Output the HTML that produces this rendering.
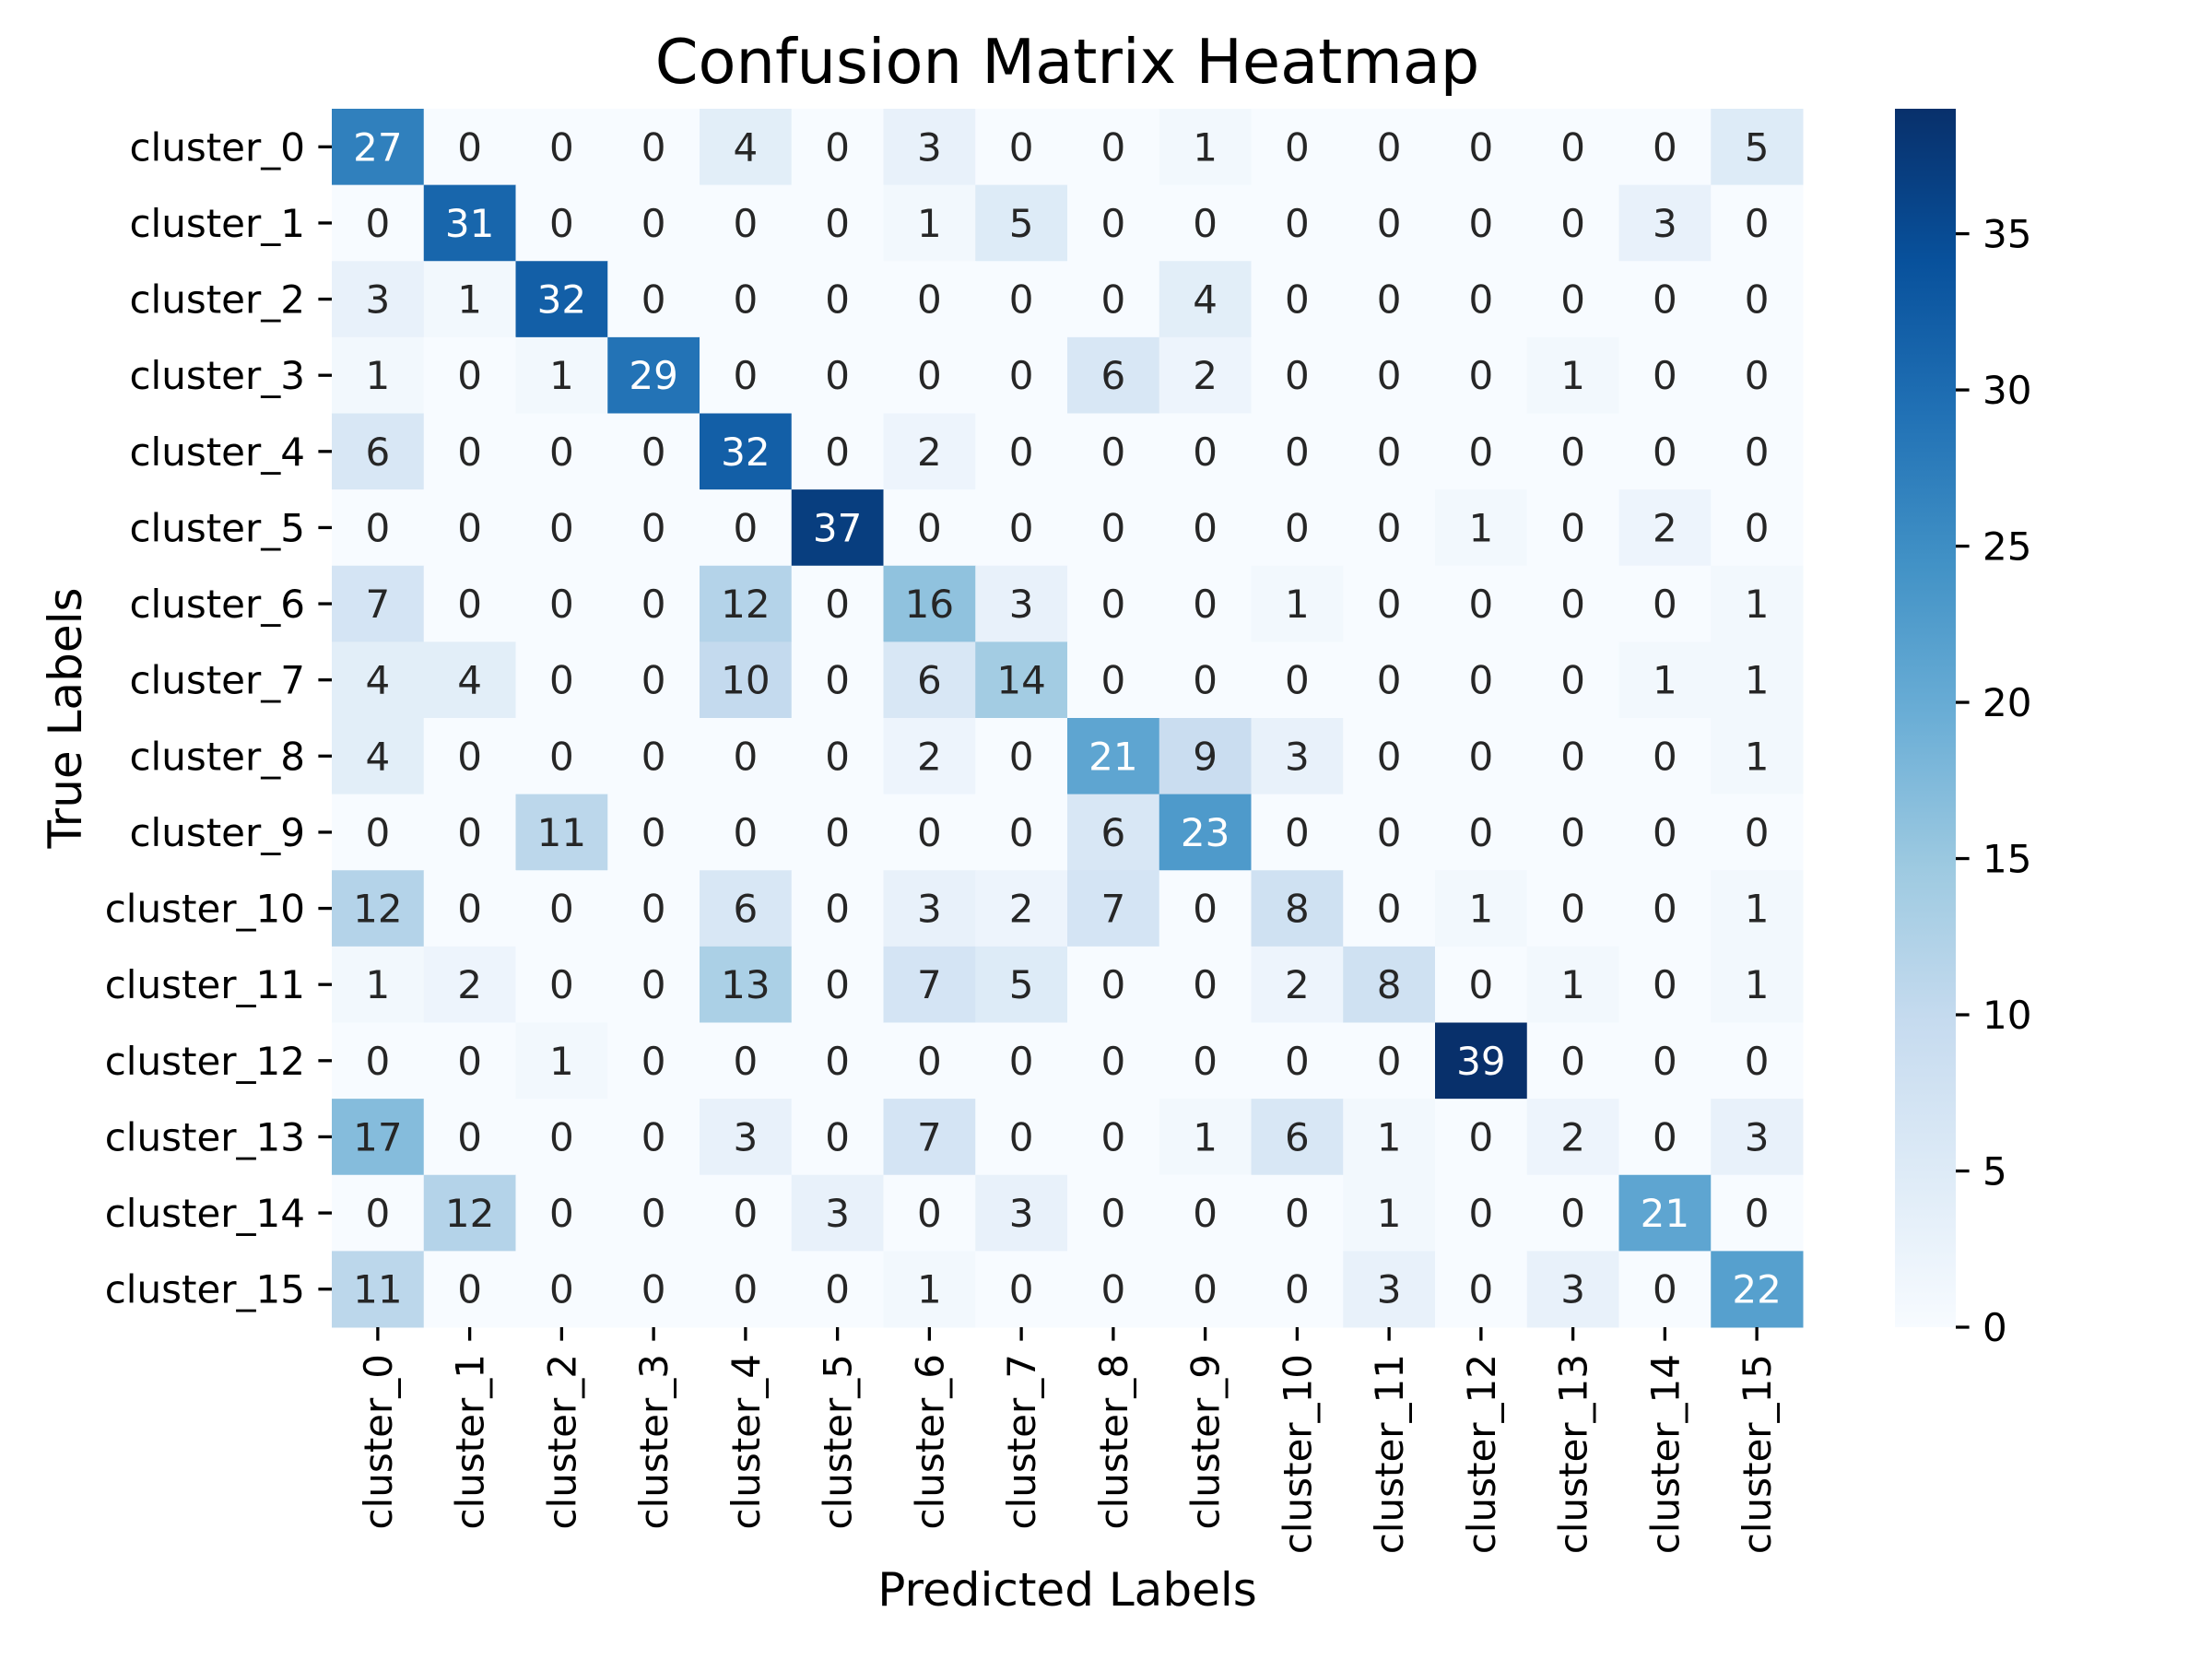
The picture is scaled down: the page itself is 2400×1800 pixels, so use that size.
<!DOCTYPE html>
<html><head><meta charset="utf-8"><style>
html,body{margin:0;padding:0;background:#fff;}
svg{display:block;font-family:"DejaVu Sans","Liberation Sans",sans-serif;}
</style></head><body>
<svg id="chart" width="2400" height="1800" viewBox="0 0 2400 1800">
<text x="1158" y="90" text-anchor="middle" font-size="67" fill="#000">Confusion Matrix Heatmap</text>
<text x="1158" y="1742" text-anchor="middle" font-size="50" fill="#000">Predicted Labels</text>
<text x="0" y="0" transform="translate(88,779) rotate(-90)" text-anchor="middle" font-size="50" fill="#000">True Labels</text>
<g id="cells"></g>
<g id="xt"></g>
<g id="yt"></g>
<defs><linearGradient id="cbg" x1="0" y1="1" x2="0" y2="0"></linearGradient></defs>
<rect id="cbar"></rect>
<g id="ct"></g>
</svg>
<script>
const labels=["cluster_0","cluster_1","cluster_2","cluster_3","cluster_4","cluster_5","cluster_6","cluster_7","cluster_8","cluster_9","cluster_10","cluster_11","cluster_12","cluster_13","cluster_14","cluster_15"];
const matrix=[
[27,0,0,0,4,0,3,0,0,1,0,0,0,0,0,5],
[0,31,0,0,0,0,1,5,0,0,0,0,0,0,3,0],
[3,1,32,0,0,0,0,0,0,4,0,0,0,0,0,0],
[1,0,1,29,0,0,0,0,6,2,0,0,0,1,0,0],
[6,0,0,0,32,0,2,0,0,0,0,0,0,0,0,0],
[0,0,0,0,0,37,0,0,0,0,0,0,1,0,2,0],
[7,0,0,0,12,0,16,3,0,0,1,0,0,0,0,1],
[4,4,0,0,10,0,6,14,0,0,0,0,0,0,1,1],
[4,0,0,0,0,0,2,0,21,9,3,0,0,0,0,1],
[0,0,11,0,0,0,0,0,6,23,0,0,0,0,0,0],
[12,0,0,0,6,0,3,2,7,0,8,0,1,0,0,1],
[1,2,0,0,13,0,7,5,0,0,2,8,0,1,0,1],
[0,0,1,0,0,0,0,0,0,0,0,0,39,0,0,0],
[17,0,0,0,3,0,7,0,0,1,6,1,0,2,0,3],
[0,12,0,0,0,3,0,3,0,0,0,1,0,0,21,0],
[11,0,0,0,0,0,1,0,0,0,0,3,0,3,0,22]];
const cbTicks=[0,5,10,15,20,25,30,35];
const vmin=0, vmax=39;
const L=360,T=118,R=1956,B=1440;
const n=labels.length, cw=(R-L)/n, ch=(B-T)/n;
const blues=["#f7fbff","#deebf7","#c6dbef","#9ecae1","#6baed6","#4292c6","#2171b5","#08519c","#08306b"];
function hex(h){return [1,3,5].map(i=>parseInt(h.substr(i,2),16));}
function cmap(v){let t=(v-vmin)/(vmax-vmin);t=Math.max(0,Math.min(1,t));const p=t*8,i=Math.min(7,Math.floor(p)),f=p-i;const a=hex(blues[i]),b=hex(blues[i+1]);return a.map((x,k)=>Math.round(x+(b[k]-x)*f));}
function lum(c){const r=c.map(x=>{x/=255;return x<=0.03928?x/12.92:Math.pow((x+0.055)/1.055,2.4);});return 0.2126*r[0]+0.7152*r[1]+0.0722*r[2];}
const NS="http://www.w3.org/2000/svg";
function mk(tag,attrs,parent){const e=document.createElementNS(NS,tag);for(const k in attrs)e.setAttribute(k,attrs[k]);parent.appendChild(e);return e;}
const xs=i=>L+i*cw, ys=j=>T+j*ch;
const cells=document.getElementById('cells');
matrix.forEach((row,j)=>row.forEach((v,i)=>{
 const c=cmap(v);
 const r=mk('rect',{x:xs(i),y:ys(j),width:cw+0.5,height:ch+0.5,fill:`rgb(${c})`},cells);
 
 
 const t=mk('text',{x:xs(i)+cw/2,y:ys(j)+ch/2+15,'text-anchor':'middle','font-size':42,fill:lum(c)>0.408?'#262626':'#ffffff'},cells);
 t.textContent=v;
 
 
}));
const xt=document.getElementById('xt'), yt=document.getElementById('yt');
labels.forEach((lab,i)=>{
 const cx=xs(i)+cw/2;
 mk('line',{x1:cx,y1:B,x2:cx,y2:B+14.6,stroke:'#000','stroke-width':3.3},xt);
 const t=mk('text',{transform:`translate(${cx+15},${B+29}) rotate(-90)`,'text-anchor':'end','font-size':42,fill:'#000'},xt);
 t.textContent=lab;
 
 
 const cy=ys(i)+ch/2;
 mk('line',{x1:L-14.6,y1:cy,x2:L,y2:cy,stroke:'#000','stroke-width':3.3},yt);
 const u=mk('text',{x:L-29,y:cy+15,'text-anchor':'end','font-size':42,fill:'#000'},yt);
 u.textContent=lab;
 
 
});
const g=document.getElementById('cbg');
for(let k=0;k<=8;k++){mk('stop',{offset:k/8,'stop-color':blues[k]},g);}
const CX=2056,CW=66;
const cb=document.getElementById('cbar');
cb.setAttribute('x',CX);cb.setAttribute('y',T);cb.setAttribute('width',CW);cb.setAttribute('height',B-T);cb.setAttribute('fill','url(#cbg)');
const ct=document.getElementById('ct');
const cyv=v=>B-(v-vmin)/(vmax-vmin)*(B-T);
cbTicks.forEach(v=>{
 const y=cyv(v);
 mk('line',{x1:CX+CW,y1:y,x2:CX+CW+14.6,y2:y,stroke:'#000','stroke-width':3.3},ct);
 const t=mk('text',{x:CX+CW+29,y:y+15,'font-size':42,fill:'#000'},ct);
 t.textContent=v;
 
 
});
</script>
</body></html>
